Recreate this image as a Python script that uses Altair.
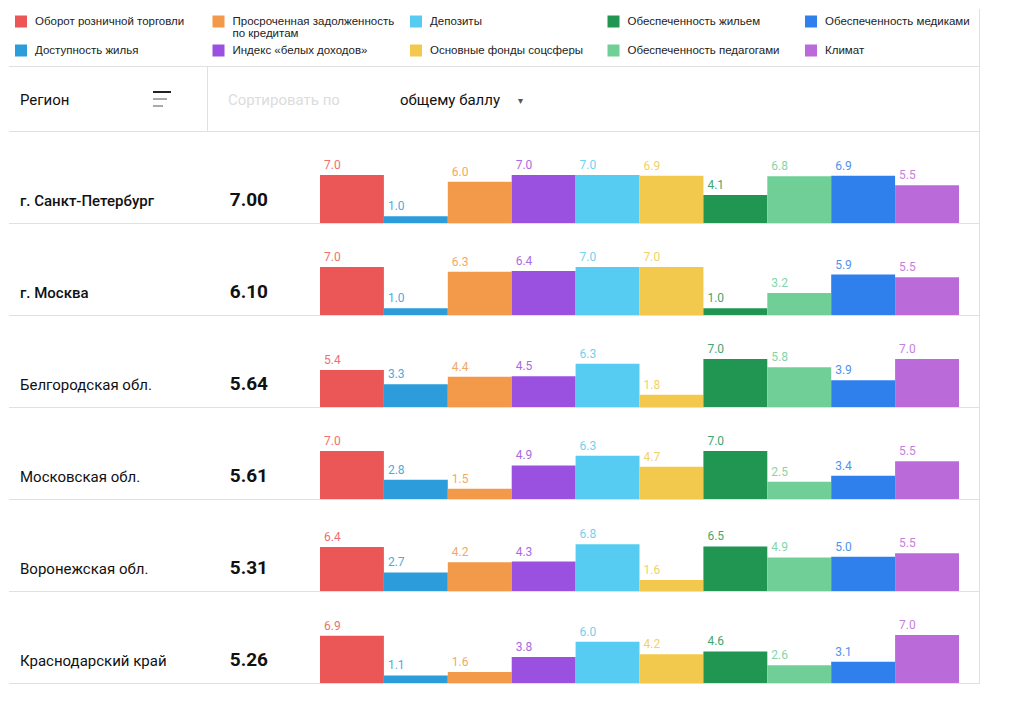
import altair as alt
import pandas as pd

# ---------------- data ----------------
series = [
    "Оборот розничной торговли",
    "Доступность жилья",
    "Просроченная задолженность по кредитам",
    "Индекс «белых доходов»",
    "Депозиты",
    "Основные фонды соцсферы",
    "Обеспеченность жильем",
    "Обеспеченность педагогами",
    "Обеспеченность медиками",
    "Климат",
]
legend_line1 = [
    "Оборот розничной торговли",
    "Доступность жилья",
    "Просроченная задолженность",
    "Индекс «белых доходов»",
    "Депозиты",
    "Основные фонды соцсферы",
    "Обеспеченность жильем",
    "Обеспеченность педагогами",
    "Обеспеченность медиками",
    "Климат",
]
legend_line2 = ["", "", "по кредитам", "", "", "", "", "", "", ""]
legend_col = [0, 0, 1, 1, 2, 2, 3, 3, 4, 4]
legend_row = [0, 1, 0, 1, 0, 1, 0, 1, 0, 1]
colors = ["#EB5757", "#2D9CDB", "#F2994A", "#9B51E0", "#56CCF2",
          "#F2C94C", "#219653", "#6FCF97", "#2F80ED", "#BB6BD9"]

regions = ["г. Санкт-Петербург", "г. Москва", "Белгородская обл.",
           "Московская обл.", "Воронежская обл.", "Краснодарский край"]
scores = ["7.00", "6.10", "5.64", "5.61", "5.31", "5.26"]
bold_names = [True, True, False, False, False, False]

spb = [7.0, 1.0, 6.0, 7.0, 7.0, 6.9, 4.1, 6.8, 6.9, 5.5]
msk = [7.0, 1.0, 6.3, 6.4, 7.0, 7.0, 1.0, 3.2, 5.9, 5.5]
belg = [5.4, 3.3, 4.4, 4.5, 6.3, 1.8, 7.0, 5.8, 3.9, 7.0]
mosobl = [7.0, 2.8, 1.5, 4.9, 6.3, 4.7, 7.0, 2.5, 3.4, 5.5]
vrn = [6.4, 2.7, 4.2, 4.3, 6.8, 1.6, 6.5, 4.9, 5.0, 5.5]
krd = [6.9, 1.1, 1.6, 3.8, 6.0, 4.2, 4.6, 2.6, 3.1, 7.0]
region_values = [spb, msk, belg, mosobl, vrn, krd]

header_region = "Регион"
header_sort = "Сортировать по"
header_sort_value = "общему баллу"

# ---------------- layout constants (styles) ----------------
FONT = "Roboto"
LEG_FONT = "Liberation Sans"
W = 972
LINE = "#e0e0e0"
VLINE_X = 970.5

color_scale = alt.Scale(domain=series, range=colors)


def rule(x1, x2, y1, y2, color=LINE, width=1):
    return alt.Chart(pd.DataFrame({"k": [0]})).mark_rule(
        color=color, strokeWidth=width
    ).encode(x=alt.value(x1), x2=alt.value(x2), y=alt.value(y1), y2=alt.value(y2))


def label(txt, x, y, size, color="#111", weight="normal", align="left", font=FONT):
    return alt.Chart(pd.DataFrame({"t": [txt]})).mark_text(
        align=align, baseline="alphabetic", fontSize=size, color=color,
        fontWeight=weight, font=font
    ).encode(x=alt.value(x), y=alt.value(y), text="t:N")


# ---------------- legend panel ----------------
LH = 58
leg_df = pd.DataFrame({
    "series": series, "l1": legend_line1, "l2": legend_line2,
    "col": legend_col, "row": legend_row,
})
lx = alt.X("col:Q", scale=alt.Scale(domain=[0, 4], range=[12, 802]), axis=None)
ly = alt.Y("row:Q", scale=alt.Scale(domain=[0, 1], range=[12.5, 41.5]), axis=None)
leg_base = alt.Chart(leg_df)
leg_sq = leg_base.mark_point(shape="square", filled=True, size=144, opacity=1).encode(
    x=lx, y=ly, color=alt.Color("series:N", scale=color_scale, legend=None)
)
leg_t1 = leg_base.mark_text(align="left", baseline="middle", dx=14, fontSize=11.5,
                            font=LEG_FONT, color="#222").encode(x=lx, y=ly, text="l1:N")
leg_t2 = leg_base.mark_text(align="left", baseline="middle", dx=14, dy=12, fontSize=11.5,
                            font=LEG_FONT, color="#222").encode(x=lx, y=ly, text="l2:N")
legend_panel = alt.layer(
    leg_sq, leg_t1, leg_t2,
    rule(0, VLINE_X, LH - 0.5, LH - 0.5),
    rule(VLINE_X, VLINE_X, 0, LH),
).properties(width=W, height=LH)

# ---------------- header panel ----------------
HH = 65
header_panel = alt.layer(
    label(header_region, 11, 38, 15),
    rule(144, 162, 25, 25, color="#222", width=2),
    rule(144, 158, 32, 32, color="#aaa", width=2),
    rule(144, 154, 39, 39, color="#aaa", width=2),
    rule(198.5, 198.5, 0, HH),
    label(header_sort, 219, 38, 15, color="#dcdcdc"),
    label(header_sort_value, 391, 38, 15, color="#111"),
    label("▾", 509, 37, 10, color="#555"),
    rule(0, VLINE_X, HH - 0.5, HH - 0.5),
    rule(VLINE_X, VLINE_X, 0, HH),
).properties(width=W, height=HH)

# ---------------- region rows ----------------
RH = 92
row_panels = []
for i, reg in enumerate(regions):
    df = pd.DataFrame({"series": series, "value": region_values[i]})
    base = alt.Chart(df)
    xs = alt.Scale(domain=series, range=[311, 950], paddingInner=0, paddingOuter=0)
    ys = alt.Scale(domain=[0, 7], range=[91, 43])
    bars = base.mark_bar(cornerRadius=0).encode(
        x=alt.X("series:N", scale=xs, axis=None, sort=None),
        y=alt.Y("value:Q", scale=ys, axis=None),
        color=alt.Color("series:N", scale=color_scale, legend=None),
    )
    vals = base.mark_text(align="left", baseline="alphabetic", dx=4, dy=-6,
                          fontSize=12, font=FONT, opacity=0.85).encode(
        x=alt.X("series:N", scale=xs, axis=None, sort=None, bandPosition=0),
        y=alt.Y("value:Q", scale=ys, axis=None),
        text=alt.Text("value:Q", format=".1f"),
        color=alt.Color("series:N", scale=color_scale, legend=None),
    )
    panel = alt.layer(
        rule(0, VLINE_X, RH - 0.5, RH - 0.5),
        rule(VLINE_X, VLINE_X, 0, RH),
        bars, vals,
        label(reg, 11, 74, 15, weight=500 if bold_names[i] else "normal"),
        label(scores[i], 259, 73.5, 19, weight="bold", align="right"),
    ).properties(width=W, height=RH)
    row_panels.append(panel)

chart = alt.vconcat(
    legend_panel, header_panel, *row_panels, spacing=0, bounds="flush"
).properties(padding=0, background="white").configure_view(stroke=None)

chart.save("out.html", embed_options={"renderer": "svg", "actions": False})
